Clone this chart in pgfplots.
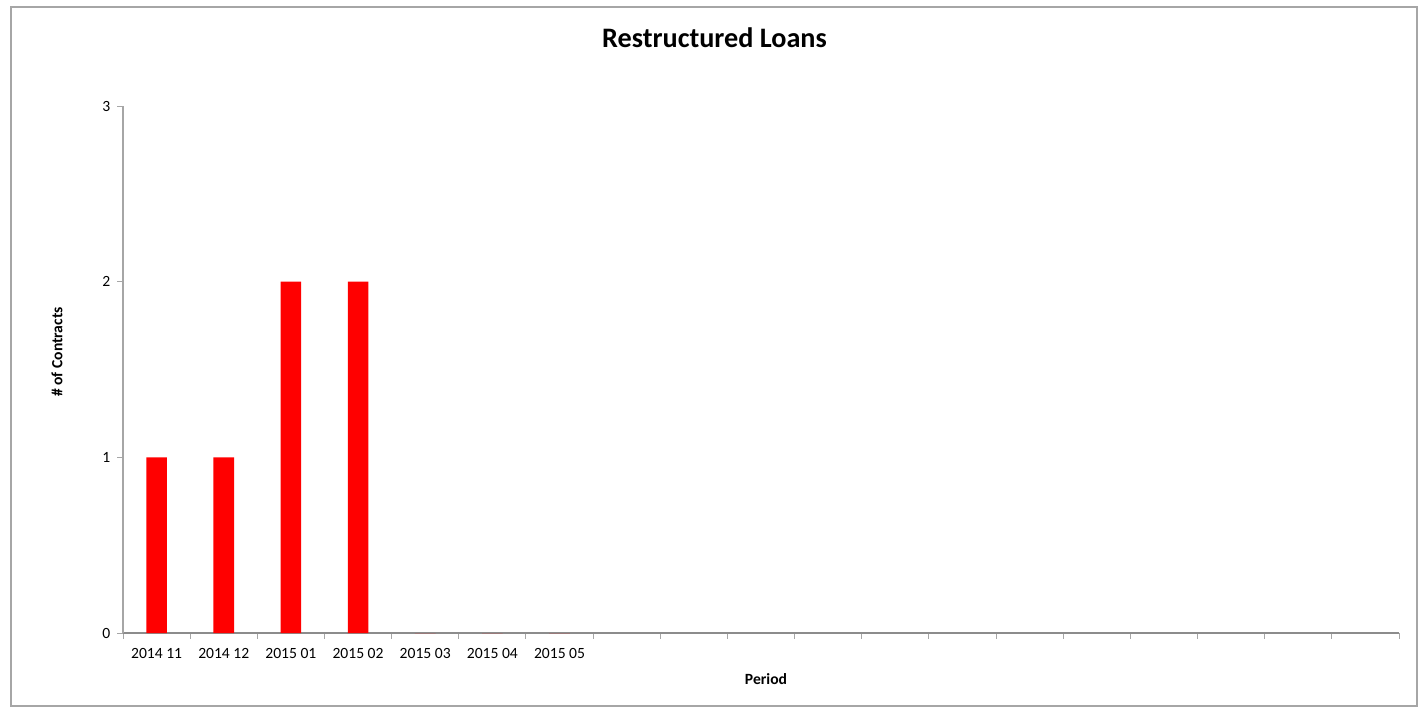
\documentclass[border=0pt]{standalone}
\usepackage{pgfplots}
\pgfplotsset{compat=1.18}
\usepackage{fontspec}
\setmainfont{Carlito}
\definecolor{axgrey}{HTML}{8C8C8C}
\definecolor{tickgrey}{HTML}{A6A6A6}
\definecolor{frame}{HTML}{A6A6A6}
\definecolor{barred}{HTML}{FF0000}

\begin{document}
\begin{tikzpicture}
% page = 1418 x 709 px, 1 px = 0.5pt, origin at top left
\path[fill=white] (0pt,0pt) rectangle (709pt,-354.5pt);
\draw[frame, line width=1pt] (5.25pt,-3.25pt) rectangle (708.5pt,-353pt);

\begin{axis}[
    at={(61.5pt,-316.5pt)}, anchor=south west,
    scale only axis,
    width=638pt, height=263.5pt,
    ybar, bar width=10.3pt,
    xmin=-0.5, xmax=18.5,
    ymin=0, ymax=3,
    axis lines=left,
    axis line style={-, axgrey, line width=0.6pt},
    y axis line style={tickgrey, line width=0.7pt},
    xtick={0,...,18},
    xticklabels={2014 11,2014 12,2015 01,2015 02,2015 03,2015 04,2015 05,,,,,,,,,,,,},
    major x tick style={draw=none},
    minor xtick={-0.5,0.5,...,18.5},
    minor tick length=2.8pt,
    ytick={0,1,2,3},
    major tick length=2.8pt,
    tick align=outside,
    tick style={tickgrey, line width=0.5pt},
    every tick label/.append style={font=\fontsize{7.8}{9}\selectfont, text=black},
    xticklabel style={yshift=-1.5pt},
    /pgf/number format/assume math mode=true,
    clip=false,
]
\addplot[fill=barred, draw=none] coordinates {
    (0,1) (1,1) (2,2) (3,2) (4,0) (5,0) (6,0)
};
\end{axis}

\node[font=\fontsize{14.1}{17}\bfseries\selectfont] at (357.25pt,-19pt) {Restructured Loans};
\node[font=\fontsize{7.8}{9}\bfseries\selectfont] at (383pt,-339.5pt) {Period};
\node[font=\fontsize{7.8}{9}\bfseries\selectfont, rotate=90] at (28.5pt,-176pt) {\# of Contracts};
\end{tikzpicture}
\end{document}
